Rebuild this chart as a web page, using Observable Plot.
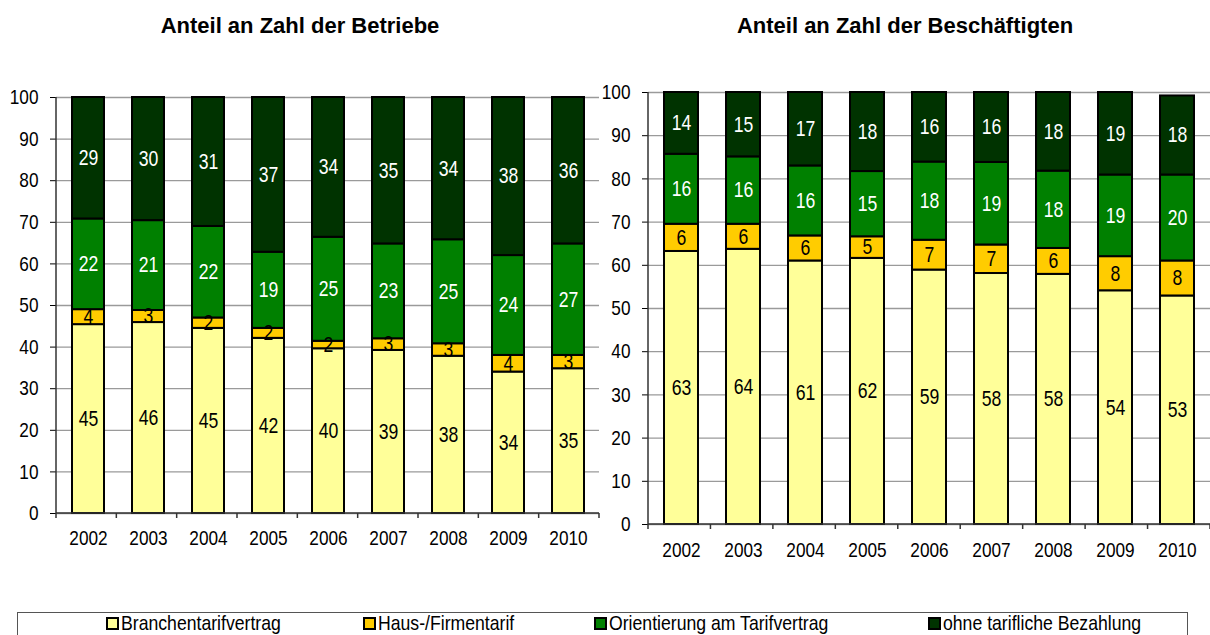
<!DOCTYPE html>
<html><head><meta charset="utf-8">
<script src="https://cdn.jsdelivr.net/npm/d3@7"></script>
<script src="https://cdn.jsdelivr.net/npm/@observablehq/plot@0.6"></script>
<style>
body{margin:0;background:#fff;width:1210px;height:635px;overflow:hidden;position:relative;font-family:"Liberation Sans",Arial,sans-serif;}
.title{position:absolute;top:15px;font:bold 22px/22px "Liberation Sans",Arial,sans-serif;text-align:center;color:#000;}
#left{position:absolute;left:0;top:0}
#right{position:absolute;left:600px;top:0}
#legend{position:absolute;left:17px;top:612px;width:1171px;height:40px;border:1px solid #555;box-sizing:border-box}
.item{position:absolute;top:-1px;font-size:21px;line-height:22px;display:flex;align-items:center;white-space:nowrap;color:#000}
.sw{width:9px;height:9px;border:2px solid #000;margin-right:2px;flex:none}
.lt{display:inline-block;transform:scaleX(0.84);transform-origin:0 50%}
</style></head>
<body>
<div class="title" style="left:0;width:600px">Anteil an Zahl der Betriebe</div>
<div class="title" style="left:600px;width:610px">Anteil an Zahl der Beschäftigten</div>
<div id="left"></div>
<div id="right"></div>
<div id="legend"></div>
<script>
const years = ["2002","2003","2004","2005","2006","2007","2008","2009","2010"];
const series = ["Branchentarifvertrag","Haus-/Firmentarif","Orientierung am Tarifvertrag","ohne tarifliche Bezahlung"];
const colors = ["#FFFF99","#FFCC00","#008000","#003300"];
const darkSeries = ["Orientierung am Tarifvertrag","ohne tarifliche Bezahlung"];
const yTicks = [0,10,20,30,40,50,60,70,80,90,100];

// Anteil an Zahl der Betriebe (segment heights)
const betriebeBranche = [45.4,45.9,44.5,42.1,39.6,39.2,37.8,34.0,34.8];
const betriebeHaus    = [3.6,2.9,2.5,2.4,1.8,2.8,3.0,4.0,3.2];
const betriebeOrient  = [21.8,21.6,22.0,18.3,25.0,22.8,25.0,24.0,26.8];
const betriebeOhne    = [29.2,29.6,31.0,37.2,33.6,35.2,34.2,38.0,35.2];
// printed labels
const betriebeBrancheLbl = [45,46,45,42,40,39,38,34,35];
const betriebeHausLbl    = [4,3,2,2,2,3,3,4,3];
const betriebeOrientLbl  = [22,21,22,19,25,23,25,24,27];
const betriebeOhneLbl    = [29,30,31,37,34,35,34,38,36];

// Anteil an Zahl der Beschäftigten
const beschBranche = [63.2,63.7,61.0,61.6,58.9,58.1,57.9,54.1,52.9];
const beschHaus    = [6.3,5.8,5.8,5.0,6.9,6.6,6.0,7.9,8.1];
const beschOrient  = [16.2,15.6,16.2,15.1,18.1,19.1,17.9,18.9,19.9];
const beschOhne    = [14.3,14.9,17.0,18.3,16.1,16.2,18.2,19.1,18.3];
const beschBrancheLbl = [63,64,61,62,59,58,58,54,53];
const beschHausLbl    = [6,6,6,5,7,7,6,8,8];
const beschOrientLbl  = [16,16,16,15,18,19,18,19,20];
const beschOhneLbl    = [14,15,17,18,16,16,18,19,18];

function buildData(vals, lbls) {
  const out = [];
  years.forEach((yr, i) => series.forEach((s, j) => out.push({year: yr, series: s, value: vals[j][i], label: String(lbls[j][i])})));
  return out;
}

function axisFrame(index, scales, values, dims) {
  const x0 = dims.marginLeft, x1 = dims.width - dims.marginRight;
  const y0 = scales.y(0), y1 = scales.y(100);
  const g = d3.create("svg:g").attr("stroke", "#333").attr("stroke-width", 1.5);
  g.append("line").attr("x1", x0).attr("x2", x0).attr("y1", y1).attr("y2", y0 + 5);
  g.append("line").attr("x1", x0).attr("x2", x1).attr("y1", y0).attr("y2", y0);
  const step = (x1 - x0) / years.length;
  for (let i = 1; i <= years.length; i++) {
    g.append("line").attr("x1", x0 + i * step).attr("x2", x0 + i * step).attr("y1", y0).attr("y2", y0 + 5);
  }
  return g.node();
}

// narrow the text horizontally (no condensed face installed)
function condense(svg, s) {
  svg.querySelectorAll("text").forEach(t => {
    const tr = t.getAttribute("transform") || "";
    t.setAttribute("transform", (tr + ` scale(${s},1)`).trim());
    if (t.hasAttribute("x")) t.setAttribute("x", parseFloat(t.getAttribute("x")) / s);
  });
  return svg;
}

function chart(data, o) {
  const p = o.pad;
  const svg = Plot.plot({
    width: o.width, height: o.height,
    marginLeft: o.ml, marginRight: o.mr, marginTop: o.mt, marginBottom: o.mb,
    style: {fontFamily: '"Liberation Sans",Arial,sans-serif', fontSize: "21px", color: "#000", background: "transparent", overflow: "visible"},
    x: {domain: years, paddingInner: p, paddingOuter: p / 2, tickSize: 0, tickPadding: o.xpad, label: null},
    y: {domain: [0, 100], ticks: yTicks, tickSize: 6, tickPadding: 12, label: null},
    color: {domain: series, range: colors},
    marks: [
      Plot.ruleY(yTicks, {stroke: "#9a9a9a", strokeWidth: 1.3}),
      Plot.barY(data, Plot.stackY({x: "year", y: "value", fill: "series", order: series, stroke: "#000", strokeWidth: 2})),
      Plot.text(data, Plot.stackY({x: "year", y: "value", z: "series", order: series, text: d => darkSeries.includes(d.series) ? "" : d.label, fill: "#000", fontSize: 21.5})),
      Plot.text(data, Plot.stackY({x: "year", y: "value", z: "series", order: series, text: d => darkSeries.includes(d.series) ? d.label : "", fill: "#fff", fontSize: 21.5})),
      axisFrame
    ]
  });
  return condense(svg, 0.82);
}

const leftData = buildData([betriebeBranche, betriebeHaus, betriebeOrient, betriebeOhne],
                           [betriebeBrancheLbl, betriebeHausLbl, betriebeOrientLbl, betriebeOhneLbl]);
const rightData = buildData([beschBranche, beschHaus, beschOrient, beschOhne],
                            [beschBrancheLbl, beschHausLbl, beschOrientLbl, beschOhneLbl]);

document.getElementById("left").append(chart(leftData, {width: 600, height: 560, ml: 56, mr: 1, mt: 97, mb: 47, pad: 0.47, xpad: 17}));
document.getElementById("right").append(chart(rightData, {width: 610, height: 570, ml: 48, mr: 0, mt: 92, mb: 46, pad: 0.455, xpad: 18}));

const legendX = [88, 345, 576, 910];
const legend = document.getElementById("legend");
series.forEach((s, i) => {
  const it = document.createElement("div");
  it.className = "item";
  it.style.left = legendX[i] + "px";
  const sw = document.createElement("span");
  sw.className = "sw";
  sw.style.background = colors[i];
  const tx = document.createElement("span");
  tx.className = "lt";
  tx.textContent = s;
  it.append(sw, tx);
  legend.append(it);
});
</script>
</body></html>
